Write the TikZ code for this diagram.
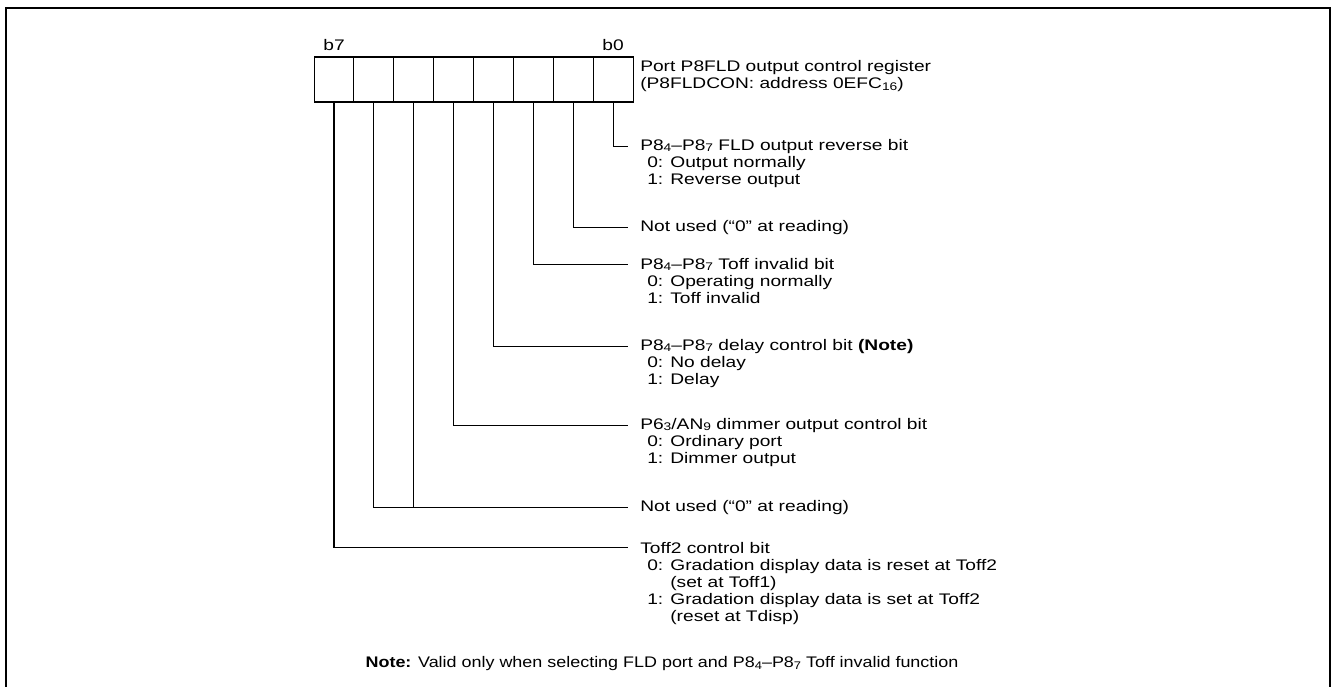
\documentclass[tikz,border=0pt]{standalone}
\usepackage{fontspec}
\setmainfont[FakeStretch=1.25]{Liberation Sans}
\newfontfamily\notefont[FakeStretch=1.17,Ligatures=TeX]{Liberation Sans}
\usetikzlibrary{positioning}
\newcommand\lowdig[1]{\raisebox{-0.2ex}{\scalebox{0.72}{#1}}}
\newcommand\optlist[1]{\begin{tabular}[t]{@{}l@{}}#1\end{tabular}}

\begin{document}
\begin{tikzpicture}[
  x=0.75pt, y=-0.75pt,
  font=\fontsize{11.5}{12.75}\selectfont,
  regcell/.style={draw, line width=0.8pt, minimum width=29.9pt, minimum height=33.75pt, inner sep=0pt},
  head/.style={inner xsep=9pt, inner ysep=0pt, anchor=base west},
  opts/.style={inner sep=0pt, anchor=base west},
  wire/.style={line width=0.8pt},
]
\useasboundingbox (0,0) rectangle (1337,686);
\draw[line width=2.2pt] (6,690) -- (6,8) -- (1330,8) -- (1330,690);

% register, b7 on the left
\foreach \b [count=\i from 0] in {7,6,...,0}
  \node[regcell] (b\b) at (334+39.875*\i,79.5) {};
\node[above=4pt of b7, inner sep=0pt] (lb7) {b7};
\node[above=4pt of b0, inner sep=0pt] (lb0) {b0};
\node[opts] (regname) at (640,71.5) {\optlist{Port P8FLD output control register\\(P8FLDCON: address 0EFC\lowdig{16})}};

% bit descriptions
\node[head] (h0) at (628,150) {P8\lowdig{4}--P8\lowdig{7} FLD output reverse bit};
\node[opts] (o0) at ([xshift=14.25pt,yshift=-12.75pt]h0.base west) {\optlist{0: Output normally\\1: Reverse output}};
\node[head] (h1) at (628,231) {Not used (“0” at reading)};
\node[head] (h2) at (628,269) {P8\lowdig{4}--P8\lowdig{7} Toff invalid bit};
\node[opts] (o2) at ([xshift=14.25pt,yshift=-12.75pt]h2.base west) {\optlist{0: Operating normally\\1: Toff invalid}};
\node[head] (h3) at (628,350) {P8\lowdig{4}--P8\lowdig{7} delay control bit \textbf{(Note)}};
\node[opts] (o3) at ([xshift=14.25pt,yshift=-12.75pt]h3.base west) {\optlist{0: No delay\\1: Delay}};
\node[head] (h4) at (628,429) {P6\lowdig{3}/AN\lowdig{9} dimmer output control bit};
\node[opts] (o4) at ([xshift=14.25pt,yshift=-12.75pt]h4.base west) {\optlist{0: Ordinary port\\1: Dimmer output}};
\node[head] (h56) at (628,511) {Not used (“0” at reading)};
\node[head] (h7) at (628,553) {Toff2 control bit};
\node[opts] (o7) at ([xshift=14.25pt,yshift=-12.75pt]h7.base west) {\optlist{0: Gradation display data is reset at Toff2\\\phantom{0: }(set at Toff1)\\1: Gradation display data is set at Toff2\\\phantom{1: }(reset at Tdisp)}};

\node[inner sep=0pt, font=\notefont\fontsize{11.5}{12.75}\selectfont] (note) at (662,664) {\textbf{Note:} Valid only when selecting FLD port and P8\lowdig{4}--P8\lowdig{7} Toff invalid function};

% bit lines
\draw[wire] (b0.south) |- (h0.west);
\draw[wire] (b1.south) |- (h1.west);
\draw[wire] (b2.south) |- (h2.west);
\draw[wire] (b3.south) |- (h3.west);
\draw[wire] (b4.south) |- (h4.west);
\draw[wire] (b5.south) -- (b5.south |- h56.west);
\draw[wire] (b6.south) |- (h56.west);
\draw[wire] (b7.south) |- (h7.west);
\end{tikzpicture}
\end{document}
